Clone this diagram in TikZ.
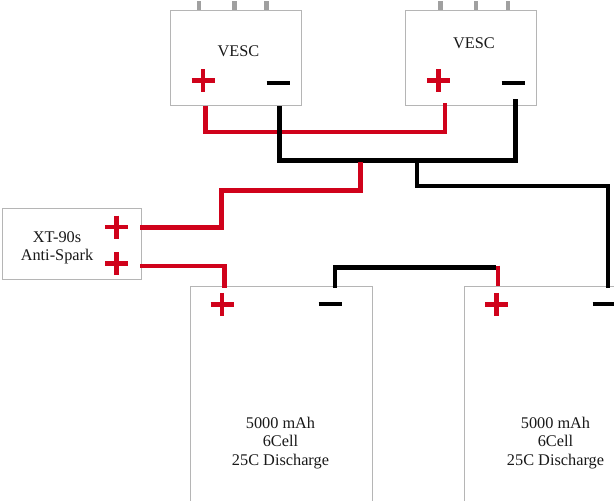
\documentclass[tikz,border=0pt]{standalone}
\usepackage{fontspec}
\setmainfont{Liberation Serif}
\definecolor{wirered}{HTML}{D0021B}
\definecolor{boxgray}{HTML}{B5B5B5}
\definecolor{stubgray}{HTML}{A0A0A0}
\tikzset{
  x=1pt,y=-1pt,
  box/.style={draw=boxgray,line width=1pt,fill=white,inner sep=0pt,outer sep=0pt,anchor=north west},
  label/.style={font=\fontsize{16.3}{18.3}\selectfont,text=black!90,align=center,inner sep=0pt},
  redwire/.style={draw=wirered,line width=4.5pt,miter limit=10},
  blackwire/.style={draw=black,line width=4.5pt,miter limit=10},
  stub/.style={draw=stubgray,line width=4.5pt},
  polar/.style={line width=4.5pt},
  pos terminal/.pic={\draw[polar,wirered] (-11.5,0)--(11.5,0) (0,-11.5)--(0,11.5);},
  neg terminal/.pic={\draw[polar,black,line width=4pt] (-11.5,0)--(11.5,0);}
}
\begin{document}
\begin{tikzpicture}
\useasboundingbox (0,0) rectangle (614,501);
\clip (0,0) rectangle (614,501);
% stubs
\foreach \n/\xx in {a/199,b/234.5,c/266.5,d/440.7,e/476,f/508}{
  \coordinate (stub\n top) at (\xx,1);
  \coordinate (stub\n bot) at (\xx,11);
  \draw[stub] (stub\n top) -- (stub\n bot);
}
% boxes
\node[box,minimum width=131pt,minimum height=95pt] (vesc1) at (170.3,10.5) {};
\node[box,minimum width=131pt,minimum height=95pt] (vesc2) at (405.7,10.5) {};
\node[box,minimum width=139pt,minimum height=71pt] (xt) at (2.4,208.3) {};
\node[box,minimum width=182pt,minimum height=240pt] (bat1) at (190,286) {};
\node[box,minimum width=182pt,minimum height=240pt] (bat2) at (464.3,286) {};
% labels
\node[label] (vesc1label) at (238.5,51) {VESC};
\node[label] (vesc2label) at (474,43) {VESC};
\node[label] (xtlabel) at (57,248) {XT-90s\\Anti-Spark};
\node[label] (bat1label) at (280.5,443) {5000 mAh\\6Cell\\25C Discharge};
\node[label] (bat2label) at (555.5,443) {5000 mAh\\6Cell\\25C Discharge};
% terminals
\pic at (203,80.5) {pos terminal};
\pic at (278,82.5) {neg terminal};
\pic at (438.3,80.5) {pos terminal};
\pic at (513,82.5) {neg terminal};
\pic at (116.7,227) {pos terminal};
\pic at (116.7,263.7) {pos terminal};
\pic at (222,304.3) {pos terminal};
\pic at (330,304.3) {neg terminal};
\pic at (496.7,304.3) {pos terminal};
\pic at (604,304.3) {neg terminal};
% wire end points
\coordinate (v1p) at (205.5,105.5);
\coordinate (v2p) at (445,103);
\coordinate (v1n) at (279.3,106);
\coordinate (v2n) at (515.3,99);
\coordinate (jr) at (360.5,162);
\coordinate (jb) at (417,160.5);
\coordinate (xa) at (140,227.3);
\coordinate (xb) at (140,266);
\coordinate (b1p) at (224.5,287.7);
\coordinate (b1n) at (335,287.7);
\coordinate (b2p) at (498,285.5);
\coordinate (b2ptop) at (498,265.5);
\coordinate (b2n) at (608,287.7);
% wires
\draw[redwire] (v1p) -- (205.5,132) -- (445,132) -- (v2p);
\draw[blackwire] (v1n) -- (279.3,160.5) -- (515.3,160.5) -- (v2n);
\draw[redwire] (jr) -- (360.5,190.7) -- (221.5,190.7) -- (221.5,227.3) -- (xa);
\draw[blackwire] (jb) -- (417,186) -- (608,186) -- (b2n);
\draw[redwire] (xb) -- (224.5,266) -- (b1p);
\draw[blackwire] (b1n) -- (335,267.7) -- (496,267.7);
\draw[redwire] (b2ptop) -- (b2p);
\end{tikzpicture}
\end{document}
